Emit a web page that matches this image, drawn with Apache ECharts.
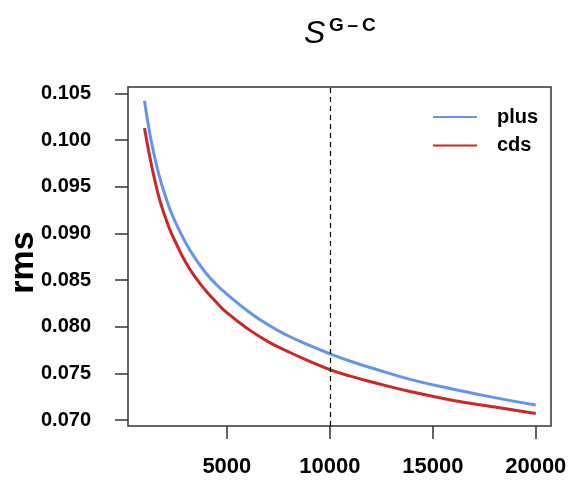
<!DOCTYPE html>
<html>
<head>
<meta charset="utf-8">
<script src="https://cdn.jsdelivr.net/npm/echarts@6/dist/echarts.min.js"></script>
<style>
  html, body { margin: 0; padding: 0; background: #ffffff; }
  #chart { width: 576px; height: 486px; }
</style>
</head>
<body>
<div id="chart"></div>
<script>
// Sample sizes along the x axis
const sampleSizes = [1000, 1250, 1500, 1750, 2000, 2250, 2500, 3000, 3500, 4000, 4500, 5000,
                     6000, 7000, 8000, 9000, 10000, 11000, 12000, 14000, 16000, 18000, 20000];
// rms for the "plus" set
const plusRms = [0.1042, 0.1008, 0.0981, 0.0959, 0.0941, 0.0925, 0.0912, 0.0890, 0.0872, 0.0857, 0.0845, 0.0835,
                 0.0817, 0.0802, 0.0790, 0.0780, 0.0771, 0.0763, 0.0756, 0.0743, 0.0733, 0.0724, 0.0716];
// rms for the "cds" set
const cdsRms = [0.1013, 0.0983, 0.0957, 0.0935, 0.0918, 0.0903, 0.0891, 0.0869, 0.0852, 0.0838, 0.0826, 0.0815,
                0.0798, 0.0784, 0.0773, 0.0763, 0.0754, 0.0747, 0.0741, 0.0730, 0.0721, 0.0714, 0.0707];
// Tick positions
const xTicks = [5000, 10000, 15000, 20000];
const yTicks = [0.070, 0.075, 0.080, 0.085, 0.090, 0.095, 0.100, 0.105];
const markerX = 10000;

const seriesNames = ['plus', 'cds'];
const colors = ['#6495ED', '#CD2626'];

const font = 'Liberation Sans, Arial, Helvetica, sans-serif';
const axisColor = '#333333';

const chart = echarts.init(document.getElementById('chart'), null, { renderer: 'canvas' });

function pairs(xs, ys) { return xs.map((x, i) => [x, ys[i]]); }

chart.setOption({
  animation: false,
  backgroundColor: '#ffffff',
  title: [
    {
      text: 'S', left: 299, top: 13,
      textStyle: { fontFamily: font, fontSize: 32, fontStyle: 'italic', fontWeight: 'normal', color: '#000' }
    },
    {
      text: 'G\u2009\u2013\u2009C', left: 324, top: 11,
      textStyle: { fontFamily: font, fontSize: 19, fontWeight: 'bold', color: '#000' }
    }
  ],
  grid: {
    left: 128, right: 25, top: 87, bottom: 60,
    show: true, borderColor: axisColor, borderWidth: 1.5, backgroundColor: 'transparent',
    containLabel: false, outerBoundsMode: 'none'
  },
  legend: {
    orient: 'vertical', left: 433, top: 107, padding: 0,
    icon: 'rect', itemWidth: 44, itemHeight: 2, itemGap: 8.5,
    data: seriesNames,
    textStyle: { fontFamily: font, fontSize: 20, fontWeight: 'bold', color: '#000', lineHeight: 20, padding: [0, 0, 0, 15] }
  },
  xAxis: {
    type: 'value', min: 200, max: 20740,
    splitLine: { show: false },
    axisLine: { show: false },
    axisTick: { show: true, inside: false, length: 13, customValues: xTicks, lineStyle: { color: axisColor, width: 1.5 } },
    axisLabel: {
      customValues: xTicks, margin: 30, fontFamily: font, fontSize: 22, fontWeight: 'bold', color: '#000',
      formatter: v => String(v)
    }
  },
  yAxis: {
    type: 'value', min: 0.06936, max: 0.10568,
    name: 'rms', nameLocation: 'middle', nameGap: 87, nameRotate: 90, nameMoveOverlap: false,
    nameTextStyle: { fontFamily: font, fontSize: 34, fontWeight: 'bold', color: '#000', padding: [0, 12, 0, 0] },
    splitLine: { show: false },
    axisLine: { show: false },
    axisTick: { show: true, inside: false, length: 13, customValues: yTicks, lineStyle: { color: axisColor, width: 1.5 } },
    axisLabel: {
      customValues: yTicks, margin: 37, fontFamily: font, fontSize: 20, fontWeight: 'bold', color: '#000',
      formatter: v => v.toFixed(3)
    }
  },
  series: [
    {
      name: seriesNames[0], type: 'line', data: pairs(sampleSizes, plusRms),
      smooth: true, symbol: 'none', color: colors[0],
      lineStyle: { width: 3, color: colors[0] },
      markLine: {
        silent: true, symbol: 'none', label: { show: false },
        lineStyle: { type: [5, 4], color: '#000', width: 1.2 },
        data: [{ xAxis: markerX }]
      }
    },
    {
      name: seriesNames[1], type: 'line', data: pairs(sampleSizes, cdsRms),
      smooth: true, symbol: 'none', color: colors[1],
      lineStyle: { width: 3, color: colors[1] }
    }
  ]
});
</script>
</body>
</html>
